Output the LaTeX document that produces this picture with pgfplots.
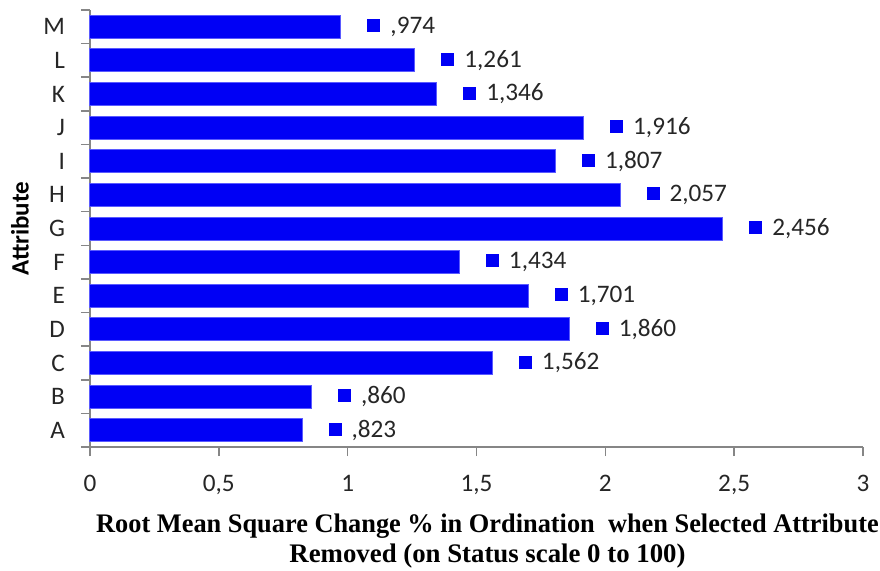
\documentclass[border=0pt]{standalone}
\usepackage{pgfplots}
\pgfplotsset{compat=1.18}
\usepackage{pgfplotstable}
\usepackage{fontspec}
\setmainfont{Carlito}
\newfontfamily\timesfont{Liberation Serif}
\definecolor{barblue}{RGB}{0,0,245}
\definecolor{baredge}{RGB}{90,90,255}
\definecolor{axgray}{RGB}{134,134,134}
\definecolor{txt}{RGB}{38,38,38}
\pgfplotstableread{
y x lab
0 0.823 {,823}
1 0.860 {,860}
2 1.562 {1,562}
3 1.860 {1,860}
4 1.701 {1,701}
5 1.434 {1,434}
6 2.456 {2,456}
7 2.057 {2,057}
8 1.807 {1,807}
9 1.916 {1,916}
10 1.346 {1,346}
11 1.261 {1,261}
12 0.974 {,974}
}\datatable
\begin{document}
\begin{tikzpicture}
\begin{axis}[
  scale only axis,
  width=386.5pt, height=218.5pt,
  at={(0,0)}, anchor=south west,
  xbar, bar width=11.5pt, bar shift=0pt,
  xmin=0, xmax=3, ymin=-0.5, ymax=12.5,
  axis lines=left,
  axis line style={-, draw=axgray, line width=0.8pt},
  tick style={draw=axgray, line width=0.8pt},
  tick align=outside,
  major tick length=4.5pt,
  xtick={0,0.5,...,3},
  /pgf/number format/use comma,
  /pgf/number format/assume math mode=true,
  ytick={-0.5,0.5,...,12.5},
  yticklabels={A,B,C,D,E,F,G,H,I,J,K,L,M},
  y tick label as interval,
  ticklabel style={font=\fontsize{12.6}{14}\selectfont, text=txt},
  xticklabel style={yshift=-6pt},
  yticklabel style={xshift=-4.5pt},
  xlabel={\scalebox{0.983}[1]{Root Mean Square Change \% in Ordination\ \ when Selected Attribute}\\Removed (on Status scale 0 to 100)},
  xlabel style={at={(axis description cs:0.5,0)}, anchor=north, yshift=-33pt, xshift=5.5pt, inner sep=0pt, align=center, font=\timesfont\bfseries\fontsize{13.4}{15.3}\selectfont},
  ylabel={Attribute},
  ylabel style={at={(axis description cs:0,0.5)}, anchor=center, yshift=35pt, font=\bfseries\fontsize{12.5}{14}\selectfont},
  nodes near coords,
  point meta=explicit symbolic,
  every node near coord/.append style={anchor=west, inner sep=0pt, xshift=13pt, text=txt, font=\fontsize{12.6}{14}\selectfont},
  nodes near coords={\textcolor{barblue}{\raisebox{0.6pt}{\rule{6.5pt}{6.5pt}}}\hspace{5pt}\pgfplotspointmeta},
  clip=false,
]
\addplot[fill=barblue, draw=baredge, line width=0.5pt] table[x=x, y=y, meta=lab] {\datatable};
\coordinate (sw) at (rel axis cs:0,0);
\end{axis}
\pgfresetboundingbox
\path (sw) ++(-45pt,-61.5pt) rectangle ++(440pt,285pt);
\end{tikzpicture}
\end{document}
